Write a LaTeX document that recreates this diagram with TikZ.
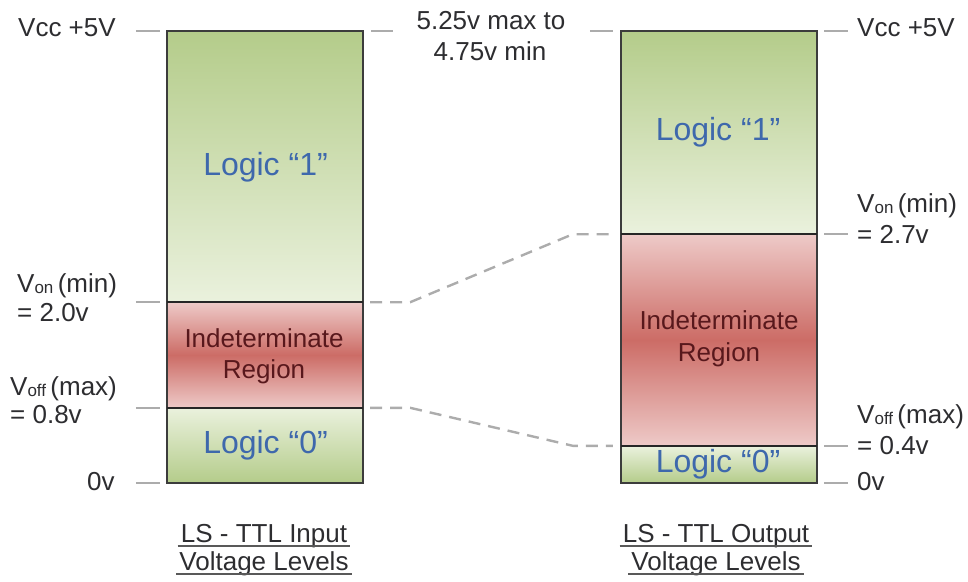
\documentclass[tikz,border=0pt]{standalone}
\usepackage{fontspec}
\setmainfont{Liberation Sans}
\usetikzlibrary{calc}

\definecolor{greenTop}{RGB}{180,204,138}
\definecolor{greenPale}{RGB}{234,241,221}
\definecolor{redMid}{RGB}{204,108,102}
\definecolor{redPale}{RGB}{238,202,200}
\definecolor{tickgray}{RGB}{172,172,172}
\definecolor{txt}{RGB}{45,45,48}
\definecolor{logicblue}{RGB}{62,104,172}
\definecolor{maroon}{RGB}{88,24,28}
\definecolor{edge}{RGB}{60,60,60}

% small subscript that sits almost on the baseline
\newcommand\subtxt[1]{\raisebox{-1.5pt}{\fontsize{17}{17}\selectfont #1}}

\tikzset{
  seg/.style={rectangle, inner sep=0pt, minimum width=196pt, draw=none},
  onezone/.style={seg, top color=greenTop, bottom color=greenPale},
  midzone/.style={seg, top color=redPale, bottom color=redPale, middle color=redMid},
  zerozone/.style={seg, top color=greenPale, bottom color=greenTop},
  barline/.style={draw=edge, line width=1.5pt},
  divider/.style={draw=black!85, line width=2pt},
  tick/.style={draw=tickgray, line width=2.4pt},
  dashline/.style={draw=tickgray, line width=2.4pt, dash pattern=on 12pt off 8pt},
  lab/.style={inner sep=0pt, text=txt, font=\fontsize{26}{31}\selectfont},
  logictxt/.style={inner sep=0pt, text=logicblue, font=\fontsize{32}{36}\selectfont, anchor=base},
  indtxt/.style={inner sep=0pt, text=maroon, font=\fontsize{26}{31}\selectfont, anchor=base},
  captxt/.style={inner sep=0pt, text=txt, font=\fontsize{26}{31}\selectfont, anchor=base},
  uline/.style={draw=black!65, line width=2pt},
}

\begin{document}
\begin{tikzpicture}[x=1pt, y=-1pt]
\useasboundingbox (0,0) rectangle (968,581);

% ---- input levels bar ----
\node[onezone,  minimum height=271pt] (in1) at (265,166.5) {};
\node[midzone,  minimum height=106pt] (in2) at (265,355) {};
\node[zerozone, minimum height=75pt]  (in0) at (265,445.5) {};
\draw[barline] (in1.north west) rectangle (in0.south east);
\draw[divider] (in1.south west) -- (in1.south east);
\draw[divider] (in0.north west) -- (in0.north east);

% ---- output levels bar ----
\node[onezone,  minimum height=203pt] (out1) at (719,132.5) {};
\node[midzone,  minimum height=212pt] (out2) at (719,340) {};
\node[zerozone, minimum height=37pt]  (out0) at (719,464.5) {};
\draw[barline] (out1.north west) rectangle (out0.south east);
\draw[divider] (out1.south west) -- (out1.south east);
\draw[divider] (out0.north west) -- (out0.north east);

% ---- zone texts ----
\node[logictxt] (tin1) at (265.5,175) {Logic “1”};
\node[indtxt] (tin2a) at (264,347) {Indeterminate};
\node[indtxt] (tin2b) at (264,378) {Region};
\node[logictxt] (tin0) at (265.5,453) {Logic “0”};

\node[logictxt] (tout1) at (718,140) {Logic “1”};
\node[indtxt] (tout2a) at (719,329) {Indeterminate};
\node[indtxt] (tout2b) at (719,361) {Region};
\node[logictxt] (tout0) at (718,472) {Logic “0”};

% ---- level ticks ----
\foreach \a in {in1.north west, in1.south west, in0.north west, in0.south west}
  \draw[tick] ([xshift=-31pt]\a) -- ([xshift=-7pt]\a);
\foreach \a in {out1.north east, out1.south east, out0.north east, out0.south east}
  \draw[tick] ([xshift=7pt]\a) -- ([xshift=31pt]\a);
\draw[tick] ([xshift=8pt]in1.north east) -- ([xshift=30pt]in1.north east);
\draw[tick] ([xshift=-31pt]out1.north west) -- ([xshift=-8pt]out1.north west);

% ---- threshold connectors ----
\draw[dashline] ([xshift=7pt]in1.south east) -- ([xshift=47pt]in1.south east)
  -- ([xshift=-48pt]out1.south west) -- ([xshift=-8pt]out1.south west);
\draw[dashline] ([xshift=7pt]in0.north east) -- ([xshift=47pt]in0.north east)
  -- ([xshift=-48pt]out0.north west) -- ([xshift=-8pt]out0.north west);

% ---- level labels, input side ----
\node[lab, anchor=base west] (vccL) at (18,36) {Vcc +5V};
\node[lab, anchor=base west] (vonL) at (17,292) {V\subtxt{on}\,(min)};
\node[lab, anchor=base west] (vonLv) at (17,321) {= 2.0v};
\node[lab, anchor=base west] (voffL) at (10,395) {V\subtxt{off}\,(max)};
\node[lab, anchor=base west] (voffLv) at (10,423) {= 0.8v};
\node[lab, anchor=base west] (zeroL) at (87,490) {0v};

% ---- level labels, output side ----
\node[lab, anchor=base west] (vccR) at (857,36) {Vcc +5V};
\node[lab, anchor=base west] (vonR) at (857,212) {V\subtxt{on}\,(min)};
\node[lab, anchor=base west] (vonRv) at (857,243) {= 2.7v};
\node[lab, anchor=base west] (voffR) at (857,423) {V\subtxt{off}\,(max)};
\node[lab, anchor=base west] (voffRv) at (857,454) {= 0.4v};
\node[lab, anchor=base west] (zeroR) at (857,490) {0v};

% ---- supply tolerance ----
\node[lab, anchor=base] (vr1) at (491,29) {5.25v max to};
\node[lab, anchor=base] (vr2) at (490,60) {4.75v min};

% ---- captions ----
\node[captxt] (capL1) at (264,542) {LS - TTL Input};
\node[captxt] (capL2) at (264,570) {Voltage Levels};
\node[captxt] (capR1) at (716,542) {LS - TTL Output};
\node[captxt] (capR2) at (716,570) {Voltage Levels};
\foreach \c in {capL1, capL2, capR1, capR2}
  \draw[uline] ([xshift=-3pt,yshift=-3.5pt]\c.base west) -- ([xshift=3pt,yshift=-3.5pt]\c.base east);
\end{tikzpicture}
\end{document}
